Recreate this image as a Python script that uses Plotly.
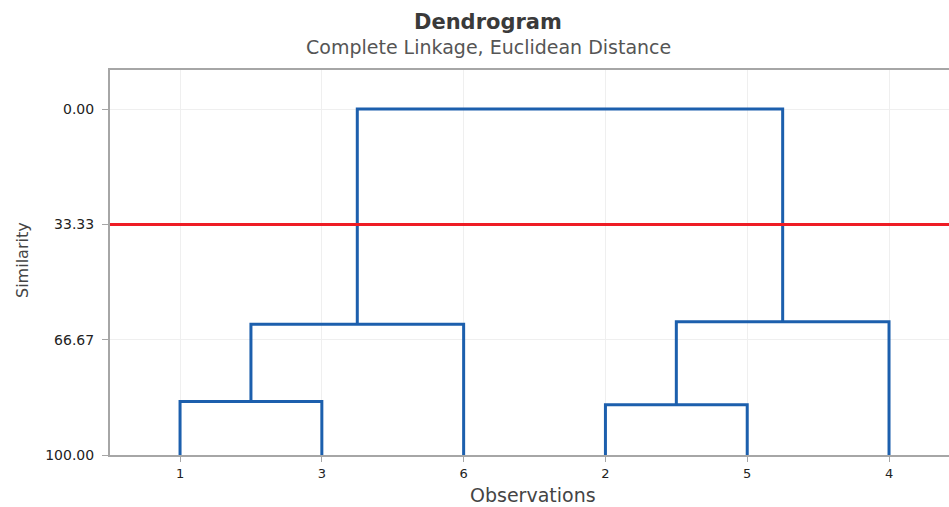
import plotly.graph_objects as go

# ---- data ----
leaf_labels = ["1", "3", "6", "2", "5", "4"]          # leaf order on x axis
merge_names = ["C1", "C2", "C3", "C4", "C5"]
merge_left = ["1", "2", "C1", "C2", "C3"]
merge_right = ["3", "5", "6", "4", "C4"]
merge_similarity = [84.5, 85.5, 62.2, 61.5, 0.0]
cut_similarity = 33.33
y_tick_vals = [0.0, 33.33, 66.67, 100.0]

# ---- build dendrogram segments ----
pos = {lab: i + 1 for i, lab in enumerate(leaf_labels)}
hgt = {lab: 100.0 for lab in leaf_labels}
xs, ys = [], []
for name, a, b, s in zip(merge_names, merge_left, merge_right, merge_similarity):
    xa, xb = pos[a], pos[b]
    xs += [xa, xa, xb, xb, None]
    ys += [hgt[a], s, s, hgt[b], None]
    pos[name] = (xa + xb) / 2
    hgt[name] = s

BLUE = "#1c5fad"
RED = "#ee1c25"
FONT = "DejaVu Sans"

W, H = 949, 507
# plot area in page pixels
PL, PR, PT, PB = 110, 949, 70, 455
ML, MR, MT, MB = PL, W - PR, PT, H - PB
pw, ph = PR - PL, PB - PT

def px(X):
    return (X - PL) / pw

def py(Y):
    return (PB - Y) / ph

fig = go.Figure()
fig.add_trace(go.Scatter(x=xs, y=ys, mode="lines",
                         line=dict(color=BLUE, width=3),
                         hoverinfo="skip", showlegend=False))
fig.add_shape(type="line", xref="paper", x0=0, x1=1, yref="y",
              y0=cut_similarity, y1=cut_similarity,
              line=dict(color=RED, width=3))

fig.update_layout(
    width=W, height=H,
    margin=dict(l=ML, r=MR, t=MT, b=MB),
    paper_bgcolor="white", plot_bgcolor="white",
    font=dict(family=FONT, color="#333333"),
    showlegend=False,
    annotations=[
        dict(text="<b>Dendrogram</b>", xref="paper", yref="paper",
             x=px(488), y=py(22), showarrow=False,
             xanchor="center", yanchor="middle",
             font=dict(size=21, color="#3a3a3a", family=FONT)),
        dict(text="Complete Linkage, Euclidean Distance", xref="paper", yref="paper",
             x=px(488), y=py(47), showarrow=False,
             xanchor="center", yanchor="middle",
             font=dict(size=19, color="#555555", family=FONT)),
        dict(text="Observations", xref="paper", yref="paper",
             x=px(533), y=py(495), showarrow=False,
             xanchor="center", yanchor="middle",
             font=dict(size=19, color="#444444", family=FONT)),
        dict(text="Similarity", xref="paper", yref="paper",
             x=px(22), y=py(260), showarrow=False, textangle=-90,
             xanchor="center", yanchor="middle",
             font=dict(size=16, color="#444444", family=FONT)),
    ],
)

fig.update_xaxes(
    range=[0.506, 6.423],
    tickmode="array", tickvals=list(range(1, len(leaf_labels) + 1)),
    ticktext=leaf_labels,
    showgrid=True, gridcolor="#efefef", gridwidth=1,
    showline=True, linecolor="#a6a6a6", linewidth=2, mirror=True,
    ticks="outside", ticklen=5, tickcolor="#a6a6a6",
    tickfont=dict(size=13, color="#222222", family=FONT),
    zeroline=False,
)
fig.update_yaxes(
    range=[100, -11.3],
    tickmode="array", tickvals=y_tick_vals,
    ticktext=[f"{v:.2f}" for v in y_tick_vals],
    showgrid=True, gridcolor="#efefef", gridwidth=1,
    showline=True, linecolor="#a6a6a6", linewidth=2,
    ticks="outside", ticklen=6, tickcolor="#a6a6a6", ticklabelstandoff=5,
    tickfont=dict(size=14, color="#222222", family=FONT),
    zeroline=False,
)

# remove the page's default 8px body margin so the figure fills the window
fig.write_html(
    "out.html",
    config={"displayModeBar": False},
    post_script="document.body.style.margin='0';document.body.style.overflow='hidden';",
)
